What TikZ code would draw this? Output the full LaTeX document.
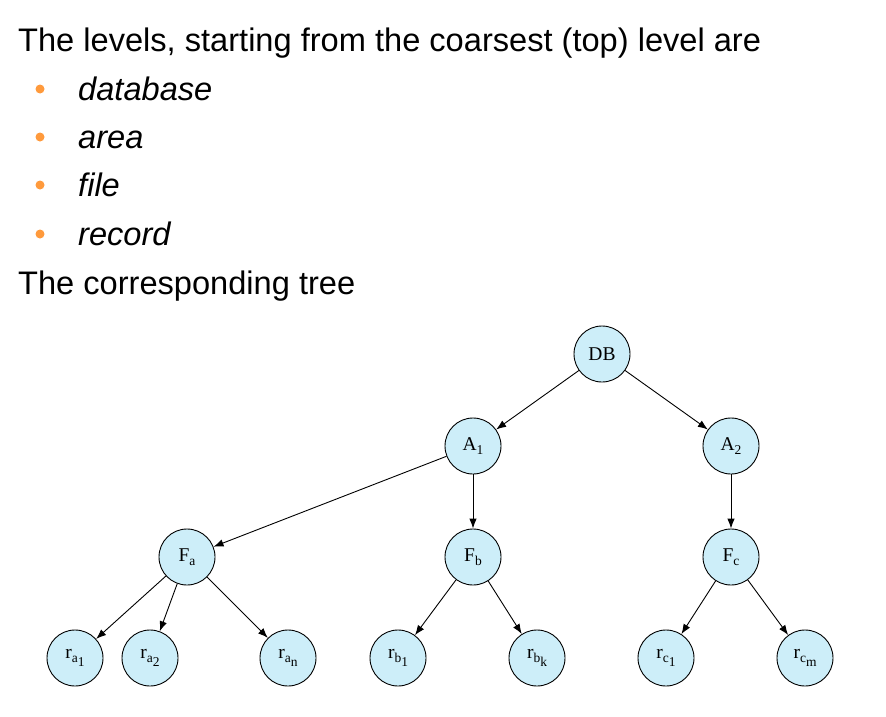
\documentclass[tikz,border=0pt]{standalone}
\usepackage{fontspec}
\setmainfont{Liberation Sans}
\newfontfamily\nodefont{Liberation Serif}
\usetikzlibrary{arrows.meta}
\definecolor{nodeblue}{HTML}{CDEEF9}
\definecolor{bulletorange}{HTML}{FF9A3C}
\newcommand\lsub[1]{\raisebox{-4pt}{\fontsize{13.5}{15}\selectfont #1}}
\tikzset{
  tnode/.style={circle,draw=black,line width=0.9pt,fill=nodeblue,minimum size=56pt,inner sep=0pt,font=\nodefont\fontsize{19.5}{22}\selectfont},
  edge/.style={line width=0.9pt,-{Latex[length=10pt,width=7.5pt]}},
  bigtext/.style={anchor=base west,inner sep=0pt,font=\fontsize{32.6}{38}\selectfont},
  itemtext/.style={bigtext,font=\fontsize{32.6}{38}\selectfont\itshape},
  bulletdot/.style={circle,fill=bulletorange,inner sep=0pt,minimum size=9pt}
}
\begin{document}
\begin{tikzpicture}[x=1pt,y=-1pt]
\useasboundingbox (0,0) rectangle (886,717);
% texts
\node[bigtext] (t1) at (18,52) {The levels, starting from the coarsest (top) level are};
\node[bulletdot] (b1) at (40,89) {};
\node[itemtext] (i1) at (78,100) {database};
\node[bulletdot] (b2) at (40,137) {};
\node[itemtext] (i2) at (78,148) {area};
\node[bulletdot] (b3) at (40,185) {};
\node[itemtext] (i3) at (78,196) {file};
\node[bulletdot] (b4) at (40,234) {};
\node[itemtext] (i4) at (78,245) {record};
\node[bigtext] (t2) at (18,294) {The corresponding tree};
% tree
\node[tnode] (DB) at (602,354) {DB};
\node[tnode] (A1) at (473,446) {A\lsub{1}};
\node[tnode] (A2) at (731,446) {A\lsub{2}};
\node[tnode] (Fa) at (187,557) {F\lsub{a}};
\node[tnode] (Fb) at (473,557) {F\lsub{b}};
\node[tnode] (Fc) at (731,557) {F\lsub{c}};
\node[tnode] (ra1) at (75,658) {r\lsub{a\lsub{1}}};
\node[tnode] (ra2) at (150,658) {r\lsub{a\lsub{2}}};
\node[tnode] (ran) at (288,658) {r\lsub{a\lsub{n}}};
\node[tnode] (rb1) at (398,658) {r\lsub{b\lsub{1}}};
\node[tnode] (rbk) at (537,658) {r\lsub{b\lsub{k}}};
\node[tnode] (rc1) at (666,658) {r\lsub{c\lsub{1}}};
\node[tnode] (rcm) at (805,658) {r\lsub{c\lsub{m}}};
\draw[edge] (DB) -- (A1);
\draw[edge] (DB) -- (A2);
\draw[edge] (A1) -- (Fa);
\draw[edge] (A1) -- (Fb);
\draw[edge] (A2) -- (Fc);
\draw[edge] (Fa) -- (ra1);
\draw[edge] (Fa) -- (ra2);
\draw[edge] (Fa) -- (ran);
\draw[edge] (Fb) -- (rb1);
\draw[edge] (Fb) -- (rbk);
\draw[edge] (Fc) -- (rc1);
\draw[edge] (Fc) -- (rcm);
\end{tikzpicture}
\end{document}
